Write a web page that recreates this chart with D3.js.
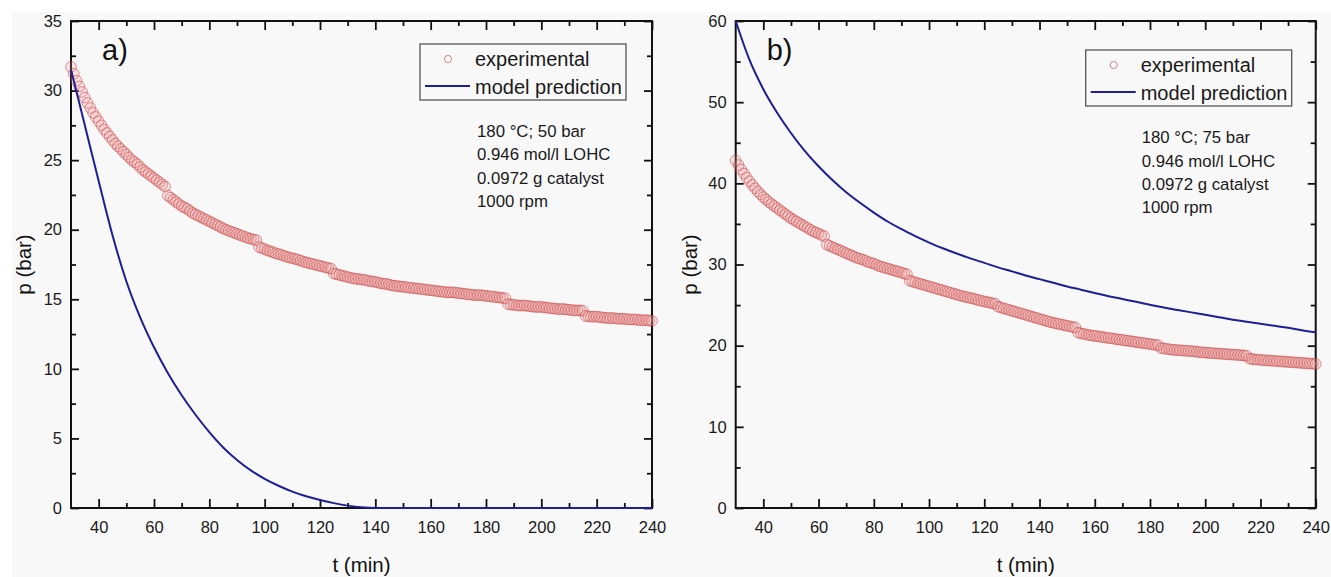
<!DOCTYPE html>
<html>
<head>
<meta charset="utf-8">
<script src="https://cdn.jsdelivr.net/npm/d3@7/dist/d3.min.js"></script>
<style>
  html, body { margin: 0; padding: 0; background: #ffffff; }
  svg { display: block; font-family: "Liberation Sans", Arial, Helvetica, sans-serif; }
</style>
</head>
<body>
<svg id="chart" width="1331" height="577"></svg>
<script>
// ---- data -------------------------------------------------------------
// sampling times of the pressure record (min)
const expTimes = [
  30, 31, 32, 33, 34, 35, 36, 37, 38, 39, 40, 41, 42, 43, 44, 45, 46, 47, 48, 49,
  50, 51, 52, 53, 54, 55, 56, 57, 58, 59, 60, 61, 62, 63, 64, 65, 66, 67, 68, 69,
  70, 71, 72, 73, 74, 75, 76, 77, 78, 79, 80, 81, 82, 83, 84, 85, 86, 87, 88, 89,
  90, 91, 92, 93, 94, 95, 96, 97, 98, 99, 100, 101, 102, 103, 104, 105, 106, 107, 108, 109,
  110, 111, 112, 113, 114, 115, 116, 117, 118, 119, 120, 121, 122, 123, 124, 125, 126, 127, 128, 129,
  130, 131, 132, 133, 134, 135, 136, 137, 138, 139, 140, 141, 142, 143, 144, 145, 146, 147, 148, 149,
  150, 151, 152, 153, 154, 155, 156, 157, 158, 159, 160, 161, 162, 163, 164, 165, 166, 167, 168, 169,
  170, 171, 172, 173, 174, 175, 176, 177, 178, 179, 180, 181, 182, 183, 184, 185, 186, 187, 188, 189,
  190, 191, 192, 193, 194, 195, 196, 197, 198, 199, 200, 201, 202, 203, 204, 205, 206, 207, 208, 209,
  210, 211, 212, 213, 214, 215, 216, 217, 218, 219, 220, 221, 222, 223, 224, 225, 226, 227, 228, 229,
  230, 231, 232, 233, 234, 235, 236, 237, 238, 239, 240
];

// experimental pressure, 50 bar run (bar)
const expA = [
  31.7, 31.2, 30.7, 30.3, 29.9, 29.5, 29.1, 28.75, 28.4, 28.1, 27.8, 27.5, 27.2, 26.95, 26.7, 26.45, 26.2, 26.0, 25.8, 25.6,
  25.4, 25.2, 25.0, 24.85, 24.7, 24.5, 24.3, 24.15, 24.0, 23.85, 23.7, 23.55, 23.4, 23.25, 23.1, 22.45, 22.3, 22.15, 22.0, 21.85,
  21.7, 21.6, 21.5, 21.35, 21.2, 21.1, 21.0, 20.9, 20.8, 20.7, 20.6, 20.5, 20.4, 20.3, 20.2, 20.1, 20.0, 19.92, 19.85, 19.78,
  19.7, 19.62, 19.55, 19.48, 19.4, 19.35, 19.3, 19.25, 18.75, 18.68, 18.6, 18.52, 18.45, 18.38, 18.3, 18.25, 18.2, 18.12, 18.05, 18.0,
  17.95, 17.9, 17.85, 17.78, 17.7, 17.65, 17.6, 17.55, 17.5, 17.45, 17.4, 17.35, 17.3, 17.25, 17.2, 16.85, 16.8, 16.75, 16.7, 16.65,
  16.6, 16.55, 16.5, 16.47, 16.45, 16.42, 16.4, 16.35, 16.3, 16.28, 16.25, 16.2, 16.15, 16.12, 16.1, 16.05, 16.0, 15.97, 15.95, 15.92,
  15.9, 15.87, 15.85, 15.82, 15.8, 15.77, 15.75, 15.72, 15.7, 15.67, 15.65, 15.62, 15.6, 15.57, 15.55, 15.52, 15.5, 15.5, 15.5, 15.47,
  15.45, 15.42, 15.4, 15.37, 15.35, 15.32, 15.3, 15.3, 15.3, 15.27, 15.25, 15.22, 15.2, 15.17, 15.15, 15.12, 15.1, 15.07, 14.65, 14.62,
  14.6, 14.57, 14.55, 14.55, 14.55, 14.52, 14.5, 14.47, 14.45, 14.45, 14.45, 14.42, 14.4, 14.37, 14.35, 14.32, 14.3, 14.3, 14.3, 14.27,
  14.25, 14.22, 14.2, 14.2, 14.2, 14.18, 13.8, 13.77, 13.75, 13.75, 13.75, 13.72, 13.7, 13.67, 13.65, 13.65, 13.65, 13.62, 13.6, 13.6,
  13.6, 13.57, 13.55, 13.55, 13.55, 13.52, 13.5, 13.5, 13.5, 13.47, 13.45
];

// experimental pressure, 75 bar run (bar)
const expB = [
  42.8, 42.25, 41.7, 41.2, 40.7, 40.25, 39.8, 39.4, 39.0, 38.65, 38.3, 38.0, 37.7, 37.45, 37.2, 36.95, 36.7, 36.45, 36.2, 35.95,
  35.7, 35.5, 35.3, 35.1, 34.9, 34.7, 34.5, 34.3, 34.1, 33.95, 33.8, 33.65, 33.5, 32.45, 32.3, 32.15, 32.0, 31.85, 31.7, 31.55,
  31.4, 31.25, 31.1, 30.95, 30.8, 30.7, 30.6, 30.45, 30.3, 30.2, 30.1, 29.95, 29.8, 29.7, 29.6, 29.5, 29.4, 29.3, 29.2, 29.1,
  29.0, 28.9, 28.8, 28.0, 27.9, 27.8, 27.7, 27.6, 27.5, 27.4, 27.3, 27.2, 27.1, 27.0, 26.9, 26.8, 26.7, 26.6, 26.5, 26.4,
  26.3, 26.2, 26.1, 26.02, 25.95, 25.87, 25.8, 25.7, 25.6, 25.52, 25.45, 25.37, 25.3, 25.22, 25.15, 24.8, 24.7, 24.6, 24.5, 24.4,
  24.3, 24.2, 24.1, 24.0, 23.9, 23.8, 23.7, 23.6, 23.5, 23.4, 23.3, 23.2, 23.1, 23.0, 22.9, 22.82, 22.75, 22.67, 22.6, 22.52,
  22.45, 22.37, 22.3, 22.25, 21.6, 21.52, 21.45, 21.37, 21.3, 21.25, 21.2, 21.15, 21.1, 21.05, 21.0, 20.95, 20.9, 20.85, 20.8, 20.75,
  20.7, 20.65, 20.6, 20.55, 20.5, 20.45, 20.4, 20.35, 20.3, 20.25, 20.2, 20.15, 20.1, 20.05, 19.7, 19.65, 19.6, 19.55, 19.5, 19.47,
  19.45, 19.42, 19.4, 19.37, 19.35, 19.32, 19.3, 19.25, 19.2, 19.17, 19.15, 19.12, 19.1, 19.07, 19.05, 19.02, 19.0, 18.97, 18.95, 18.92,
  18.9, 18.87, 18.85, 18.82, 18.8, 18.75, 18.4, 18.35, 18.3, 18.27, 18.25, 18.22, 18.2, 18.17, 18.15, 18.12, 18.1, 18.07, 18.05, 18.02,
  18.0, 17.97, 17.95, 17.92, 17.9, 17.87, 17.85, 17.82, 17.8, 17.77, 17.75
];

// model time grid (min)
const modelTimes = [
  30, 35, 40, 45, 50, 55, 60, 65, 70, 75, 80, 85, 90, 95, 100, 105, 110, 115, 120, 125,
  130, 135, 140, 145, 150, 155, 160, 165, 170, 175, 180, 185, 190, 195, 200, 205, 210, 215, 220, 225,
  230, 235, 240
];

// model prediction, 50 bar run (bar)
const modelA = [
  31.5, 27.5, 23.5, 19.6, 16.3, 13.7, 11.55, 9.7, 8.1, 6.7, 5.45, 4.35, 3.45, 2.7, 2.1, 1.6, 1.18, 0.84, 0.57, 0.35,
  0.17, 0.05, 0, 0, 0, 0, 0, 0, 0, 0, 0, 0, 0, 0, 0, 0, 0, 0, 0, 0,
  0, 0, 0
];

// model prediction, 75 bar run (bar)
const modelB = [
  60.0, 55.2, 51.6, 48.7, 46.2, 44.0, 42.1, 40.4, 38.9, 37.6, 36.4, 35.3, 34.35, 33.5, 32.7, 32.0, 31.35, 30.75, 30.2, 29.65,
  29.15, 28.65, 28.2, 27.75, 27.3, 26.9, 26.5, 26.1, 25.75, 25.4, 25.05, 24.7, 24.4, 24.1, 23.8, 23.5, 23.2, 22.95, 22.7, 22.45,
  22.2, 21.9, 21.65
];

const xMajor = [40, 60, 80, 100, 120, 140, 160, 180, 200, 220, 240];
const xMinor = [50, 70, 90, 110, 130, 150, 170, 190, 210, 230];
const yMajorA = [0, 5, 10, 15, 20, 25, 30, 35];
const yMinorA = [2.5, 7.5, 12.5, 17.5, 22.5, 27.5, 32.5];
const yMajorB = [0, 10, 20, 30, 40, 50, 60];
const yMinorB = [5, 15, 25, 35, 45, 55];

const legendLabels = ["experimental", "model prediction"];
const notesA = ["180 °C; 50 bar", "0.946 mol/l LOHC", "0.0972 g catalyst", "1000 rpm"];
const notesB = ["180 °C; 75 bar", "0.946 mol/l LOHC", "0.0972 g catalyst", "1000 rpm"];
const xTitle = "t (min)";
const yTitle = "p (bar)";

// ---- drawing ----------------------------------------------------------
const svg = d3.select("#chart");
svg.append("rect")
  .attr("x", 12).attr("y", 12).attr("width", 1319).attr("height", 565)
  .attr("fill", "#f8f8f8");

const AXIS = "#111";
const LINE = "#1e1e96";
const PT_STROKE = "#c83232";
const PT_FILL = "#eb9c9c";

function drawPanel(p) {
  const g = svg.append("g");
  const x = d3.scaleLinear().domain([30, 240]).range([p.left, p.right]);
  const y = d3.scaleLinear().domain([0, p.yMax]).range([p.bottom, p.top]);

  // axes with inward ticks on all four sides
  function axisGroup(gen, tx, ty) {
    const a = g.append("g").attr("transform", `translate(${tx},${ty})`).call(gen);
    a.select(".domain").remove();
    a.selectAll("line").attr("stroke", AXIS).attr("stroke-width", 1.8);
    a.selectAll("text").attr("fill", "#1a1a1a").attr("font-size", 16.5)
      .attr("font-family", '"Liberation Sans", Arial, sans-serif');
    return a;
  }
  axisGroup(d3.axisBottom(x).tickValues(xMajor).tickSizeInner(-9).tickSizeOuter(0).tickPadding(13), 0, p.bottom);
  axisGroup(d3.axisBottom(x).tickValues(xMinor).tickSizeInner(-5).tickSizeOuter(0).tickFormat(""), 0, p.bottom);
  axisGroup(d3.axisTop(x).tickValues(xMajor).tickSizeInner(-9).tickSizeOuter(0).tickFormat(""), 0, p.top);
  axisGroup(d3.axisTop(x).tickValues(xMinor).tickSizeInner(-5).tickSizeOuter(0).tickFormat(""), 0, p.top);
  axisGroup(d3.axisLeft(y).tickValues(p.yMajor).tickSizeInner(-8).tickSizeOuter(0).tickPadding(9), p.left, 0);
  axisGroup(d3.axisLeft(y).tickValues(p.yMinor).tickSizeInner(-5).tickSizeOuter(0).tickFormat(""), p.left, 0);
  axisGroup(d3.axisRight(y).tickValues(p.yMajor).tickSizeInner(-8).tickSizeOuter(0).tickFormat(""), p.right, 0);
  axisGroup(d3.axisRight(y).tickValues(p.yMinor).tickSizeInner(-5).tickSizeOuter(0).tickFormat(""), p.right, 0);

  g.append("rect")
    .attr("x", p.left).attr("y", p.top)
    .attr("width", p.right - p.left).attr("height", p.bottom - p.top)
    .attr("fill", "none").attr("stroke", AXIS).attr("stroke-width", 2);

  // experimental points (open circles, densely sampled)
  const pts = expTimes.map((t, i) => ({ t, v: p.exp[i] }));
  g.append("g").selectAll("circle").data(pts).join("circle")
    .attr("cx", d => x(d.t)).attr("cy", d => y(d.v)).attr("r", 5.4)
    .attr("fill", PT_FILL).attr("fill-opacity", 0.22)
    .attr("stroke", PT_STROKE).attr("stroke-opacity", 0.5).attr("stroke-width", 1);

  // model curve
  const mdl = modelTimes.map((t, i) => ({ t, v: p.model[i] }));
  g.append("path").datum(mdl)
    .attr("d", d3.line().x(d => x(d.t)).y(d => y(d.v)).curve(d3.curveMonotoneX))
    .attr("fill", "none").attr("stroke", LINE).attr("stroke-width", 2);

  // panel letter
  g.append("text").attr("x", p.left + 31).attr("y", 60)
    .attr("font-size", 29).attr("fill", "#111").text(p.letter);

  // legend
  const lg = g.append("g").attr("transform", `translate(${p.legX},${p.legY})`);
  lg.append("rect").attr("width", 206).attr("height", 56)
    .attr("fill", "none").attr("stroke", "#555").attr("stroke-width", 1.3);
  lg.append("circle").attr("cx", 28).attr("cy", 15).attr("r", 3.6)
    .attr("fill", "none").attr("stroke", "#c98a8a").attr("stroke-width", 1);
  lg.append("line").attr("x1", 5).attr("x2", 50).attr("y1", 42).attr("y2", 42)
    .attr("stroke", LINE).attr("stroke-width", 2);
  lg.selectAll("text.lbl").data(legendLabels).join("text").attr("class", "lbl")
    .attr("x", 55).attr("y", (d, i) => 22 + i * 27.5)
    .attr("font-size", 20).attr("fill", "#1a1a1a").text(d => d);

  // run conditions
  g.append("g").selectAll("text").data(p.notes).join("text")
    .attr("x", p.noteX).attr("y", (d, i) => p.noteY + i * 23.3)
    .attr("font-size", 16.8).attr("fill", "#1a1a1a").text(d => d);

  // axis titles
  g.append("text").attr("x", (p.left + p.right) / 2).attr("y", 572)
    .attr("text-anchor", "middle").attr("font-size", 20.5).attr("fill", "#111").text(xTitle);
  g.append("text")
    .attr("transform", `translate(${p.yTitleX},${(p.top + p.bottom) / 2}) rotate(-90)`)
    .attr("text-anchor", "middle").attr("font-size", 20.5).attr("fill", "#111").text(yTitle);
}

drawPanel({
  left: 71, right: 652, top: 21, bottom: 508, yMax: 35,
  yMajor: yMajorA, yMinor: yMinorA, exp: expA, model: modelA, letter: "a)",
  legX: 420, legY: 44, notes: notesA, noteX: 477, noteY: 137, yTitleX: 31
});
drawPanel({
  left: 735.7, right: 1315.7, top: 21, bottom: 508, yMax: 60,
  yMajor: yMajorB, yMinor: yMinorB, exp: expB, model: modelB, letter: "b)",
  legX: 1085.7, legY: 50, notes: notesB, noteX: 1141.7, noteY: 143.3, yTitleX: 697
});
</script>
</body>
</html>
